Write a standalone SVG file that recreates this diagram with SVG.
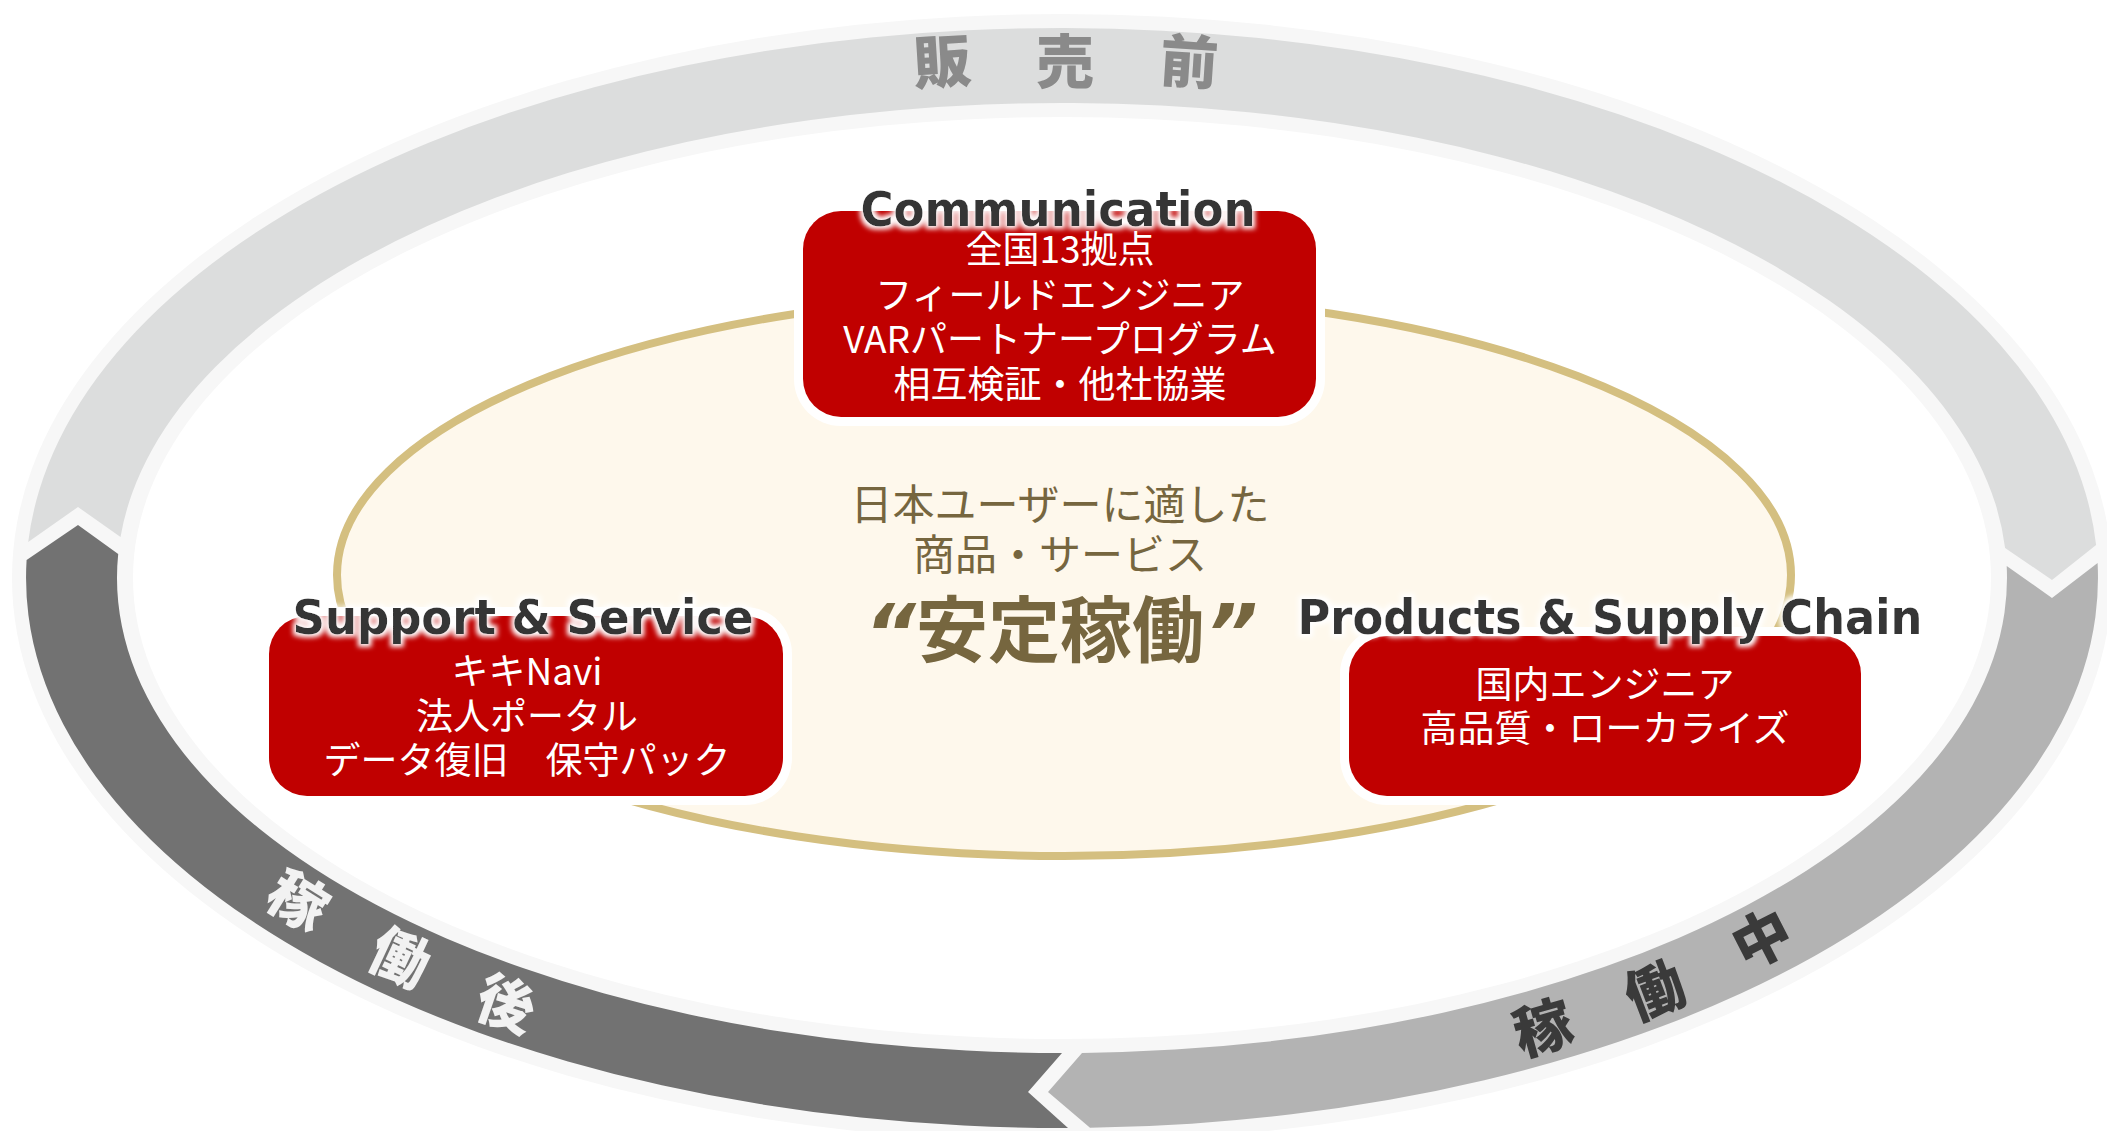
<svg xmlns="http://www.w3.org/2000/svg" width="2107" height="1131" viewBox="0 0 2107 1131">
<defs>
<style>
.title{font-family:"DejaVu Sans","Liberation Sans",sans-serif;font-weight:bold;font-size:48px;fill:#363636;text-anchor:middle}
.item{font-family:"Noto Sans CJK JP",sans-serif;font-size:37px;fill:#ffffff;text-anchor:middle}
.center{font-family:"Noto Sans CJK JP",sans-serif;fill:#76663f;text-anchor:middle}
.band{font-family:"Noto Sans CJK JP",sans-serif;font-weight:900;font-size:58px;text-anchor:middle}
.box{fill:#c00000}
.halo{fill:#ffffff}
</style>
<filter id="glow" x="-5%" y="-40%" width="110%" height="180%">
<feMorphology in="SourceAlpha" operator="dilate" radius="3" result="d"/>
<feGaussianBlur in="d" stdDeviation="2.5" result="b"/>
<feFlood flood-color="#ffffff"/>
<feComposite in2="b" operator="in" result="w"/>
<feMerge><feMergeNode in="w"/><feMergeNode in="SourceGraphic"/></feMerge>
</filter>
</defs>
<rect width="2107" height="1131" fill="#ffffff"/>

<g id="cycle-ring">
<ellipse cx="1062" cy="578" rx="1050" ry="564" fill="#f7f7f7"/>
<ellipse cx="1062" cy="578" rx="929" ry="461" fill="#ffffff"/>
</g>

<g id="connectors">
<path id="seg-pre" d="M 28.2 542 A 1036 550 0 0 1 2096.1 545 L 2052 580 L 2005.1 548 A 945 475 0 0 0 120.5 537 L 78 507 Z" fill="#dcdddd"/>
<path id="seg-during" d="M 2097.6 563 A 1036 550 0 0 1 1090 1127.8 L 1048 1092 L 1082 1052.9 A 945 475 0 0 0 2006.7 566 L 2052 598 Z" fill="#b3b3b3"/>
<path id="seg-after" d="M 1068 1128 A 1036 550 0 0 1 26.6 560 L 78 525 L 118.2 554 A 945 475 0 0 0 1062 1053 L 1028 1092 Z" fill="#727272"/>
</g>

<g id="label-pre">
<text class="band" fill="#8a8a8a" transform="translate(942,62) rotate(-3.6)" x="0" y="21">販</text>
<text class="band" fill="#8a8a8a" transform="translate(1065,62)" x="0" y="21">売</text>
<text class="band" fill="#8a8a8a" transform="translate(1189,62) rotate(3.8)" x="0" y="21">前</text>
</g>
<g id="label-after">
<text class="band" fill="#f2f2f2" transform="translate(298,901) rotate(32)" x="0" y="21">稼</text>
<text class="band" fill="#f2f2f2" transform="translate(400,958) rotate(25)" x="0" y="21">働</text>
<text class="band" fill="#f2f2f2" transform="translate(506,1004) rotate(19)" x="0" y="21">後</text>
</g>
<g id="label-during">
<text class="band" fill="#3a3a3a" transform="translate(1543,1028) rotate(-16)" x="0" y="21">稼</text>
<text class="band" fill="#3a3a3a" transform="translate(1655,991) rotate(-21)" x="0" y="21">働</text>
<text class="band" fill="#3a3a3a" transform="translate(1762,939) rotate(-27)" x="0" y="21">中</text>
</g>

<g id="core">
<ellipse cx="1064" cy="575" rx="727" ry="281" fill="#fef8ec" stroke="#d4bf80" stroke-width="8"/>
<text class="center" x="1060" y="520" font-size="42">日本ユーザーに適した</text>
<text class="center" x="1060" y="570" font-size="42">商品・サービス</text>
<text class="center" x="1060" y="656" font-size="72" font-weight="bold">安定稼働</text>
<text class="center" x="890" y="662" font-size="80" font-weight="bold" font-style="italic" style="font-family:'DejaVu Sans',sans-serif">“</text>
<text class="center" x="1232" y="662" font-size="80" font-weight="bold" font-style="italic" style="font-family:'DejaVu Sans',sans-serif">”</text>
</g>

<g id="node-communication">
<rect class="halo" x="794" y="202" width="531" height="224" rx="47"/>
<rect class="box" x="803" y="211" width="513" height="206" rx="38"/>
<text class="title" x="1058" y="226" textLength="395" lengthAdjust="spacingAndGlyphs" filter="url(#glow)">Communication</text>
<text class="item" x="1060" y="263">全国13拠点</text>
<text class="item" x="1060" y="309">フィールドエンジニア</text>
<text class="item" x="1060" y="353">VARパートナープログラム</text>
<text class="item" x="1060" y="398">相互検証・他社協業</text>
</g>

<g id="node-support">
<rect class="halo" x="260" y="607" width="532" height="198" rx="47"/>
<rect class="box" x="269" y="616" width="514" height="180" rx="38"/>
<text class="title" x="523" y="634" textLength="461" lengthAdjust="spacingAndGlyphs" filter="url(#glow)">Support &amp; Service</text>
<text class="item" x="527" y="685">キキNavi</text>
<text class="item" x="527" y="730">法人ポータル</text>
<text class="item" x="527" y="774">データ復旧　保守パック</text>
</g>

<g id="node-products">
<rect class="halo" x="1340" y="627" width="530" height="178" rx="47"/>
<rect class="box" x="1349" y="636" width="512" height="160" rx="38"/>
<text class="title" x="1610" y="634" textLength="625" lengthAdjust="spacingAndGlyphs" filter="url(#glow)">Products &amp; Supply Chain</text>
<text class="item" x="1605" y="698">国内エンジニア</text>
<text class="item" x="1605" y="742">高品質・ローカライズ</text>
</g>
</svg>
